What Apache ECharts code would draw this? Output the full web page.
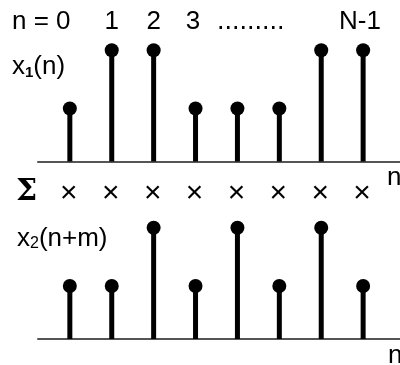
<!DOCTYPE html>
<html><head><meta charset="utf-8">
<script src="https://cdn.jsdelivr.net/npm/echarts@6/dist/echarts.min.js"></script>
<style>html,body{margin:0;padding:0;background:#fff}#c{width:400px;height:365px}</style>
</head><body><div id="c"></div>
<script>
// sample index n
const sampleIndex = [0, 1, 2, 3, 4, 5, 6, 7];
// x1(n) values (short stem = 1 unit)
const x1Values = [1, 2.1, 2.1, 1, 1, 1, 2.1, 2.1];
// x2(n+m) values
const x2Values = [1, 1, 2.1, 1, 2.1, 1, 2.1, 1];
// index labels along the top
const indexLabels = ['n = 0', '1', '2', '3', '.........', 'N-1'];
const productMark = '×';

const FONT = '"Liberation Sans", Arial, sans-serif';
const chart = echarts.init(document.getElementById('c'), null, {renderer: 'canvas'});

function pairs(vals) { return sampleIndex.map((n, i) => [n, vals[i]]); }

const xAxisBase = {
  type: 'value', min: -0.76, max: 7.88,
  axisLine: {show: true, onZero: true, lineStyle: {color: '#555', width: 2}},
  axisTick: {show: false}, axisLabel: {show: false}, splitLine: {show: false}
};
const yAxisBase = {type: 'value', min: 0, max: 2.5, show: false, splitLine: {show: false}};

function stemSeries(vals, idx) {
  return [
    {type: 'bar', xAxisIndex: idx, yAxisIndex: idx, data: pairs(vals), barWidth: 5,
     itemStyle: {color: '#000', opacity: 1}, silent: true, z: 3},
    {type: 'scatter', xAxisIndex: idx, yAxisIndex: idx, data: pairs(vals), symbol: 'circle',
     symbolSize: 14, itemStyle: {color: '#000', opacity: 1}, silent: true, z: 4, clip: false}
  ];
}

chart.setOption({
  animation: false,
  backgroundColor: '#fff',
  grid: [
    {left: 38, width: 362, top: 29, height: 132.5},
    {left: 38, width: 362, top: 206.5, height: 132.5}
  ],
  xAxis: [Object.assign({gridIndex: 0}, xAxisBase), Object.assign({gridIndex: 1}, xAxisBase)],
  yAxis: [Object.assign({gridIndex: 0}, yAxisBase), Object.assign({gridIndex: 1}, yAxisBase)],
  series: [...stemSeries(x1Values, 0), ...stemSeries(x2Values, 1)]
});

const px = n => chart.convertToPixel({xAxisIndex: 0}, n);
const txt = (text, x, y, opts) => ({
  type: 'text', x: x, y: y, silent: true,
  style: Object.assign({text: text, fill: '#000', font: '26px ' + FONT, align: 'left', verticalAlign: 'middle'}, opts || {})
});

const g = [];
// index labels
g.push(txt(indexLabels[0], 12, 22));
g.push(txt(indexLabels[1], px(1), 22, {align: 'center'}));
g.push(txt(indexLabels[2], px(2), 22, {align: 'center'}));
g.push(txt(indexLabels[3], 193, 22, {align: 'center'}));
g.push(txt(indexLabels[4], 217, 22, {align: 'left', font: '27px ' + FONT}));
g.push(txt(indexLabels[5], 360, 22, {align: 'center'}));
// signal names
g.push({type: 'text', x: 12, y: 67, silent: true, style: {
  text: 'x{s|1}(n)', fill: '#000', font: '26px ' + FONT, verticalAlign: 'middle',
  rich: {s: {fontSize: 15, fontWeight: 'bold', fontFamily: FONT, verticalAlign: 'bottom', padding: [8,0,0,0]}}}});
g.push({type: 'text', x: 17, y: 239, silent: true, style: {
  text: 'x{s|2}(n+m)', fill: '#000', font: '26px ' + FONT, verticalAlign: 'middle',
  rich: {s: {fontSize: 16, fontFamily: FONT, verticalAlign: 'bottom', padding: [8,0,0,0]}}}});
// sum and products
g.push(txt('Σ', 16, 192, {font: 'bold 30px "DejaVu Serif", "Liberation Serif", serif'}));
sampleIndex.forEach(n => g.push(txt(productMark, px(n) - 1, 194, {align: 'center', font: '30px ' + FONT})));
// axis names
g.push(txt('n', 387, 178));
g.push(txt('n', 388, 356));

chart.setOption({graphic: g});
</script></body></html>
